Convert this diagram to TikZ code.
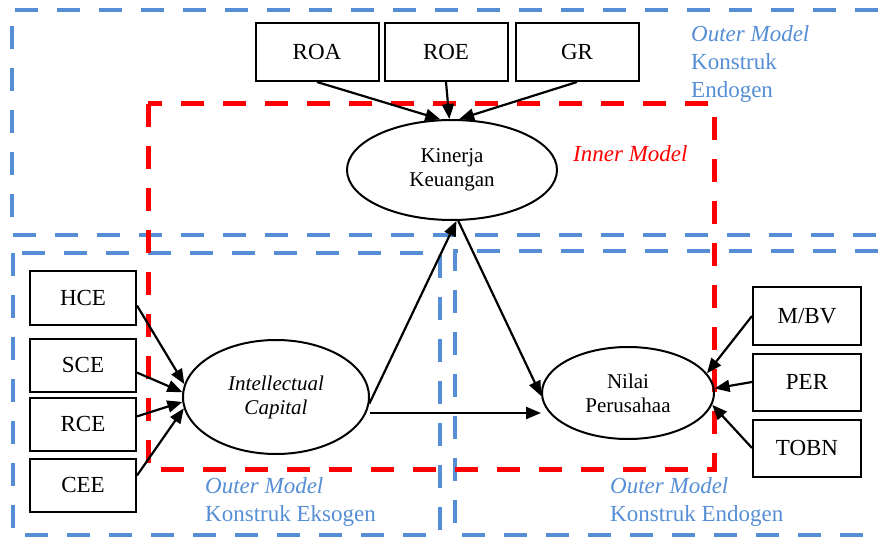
\documentclass[tikz,border=0pt]{standalone}
\usepackage{fontspec}
\setmainfont{Liberation Serif}
\usetikzlibrary{shapes.geometric}
\usetikzlibrary{arrows.meta}
\usetikzlibrary{positioning}
\definecolor{outerblue}{RGB}{85,142,213}
\definecolor{innerred}{RGB}{255,0,0}
\tikzstyle{every indicator} = [draw=black, line width=2pt]
\tikzstyle{indicator} = [rectangle, minimum width=123pt, minimum height=58pt, inner sep=0pt, font=\fontsize{23}{27}\selectfont, every indicator]
\tikzstyle{left indicator} = [indicator, minimum width=106pt, minimum height=53pt]
\tikzstyle{right indicator} = [indicator, minimum width=108pt, minimum height=57pt]
\tikzstyle{construct} = [ellipse, draw=black, line width=2pt, inner sep=0pt, align=center, font=\fontsize{21}{24}\selectfont]
\tikzstyle{link} = [>={Triangle[length=15pt,width=12pt]}, ->, draw, line width=2.2pt]
\tikzstyle{outer box} = [draw=outerblue, line width=4pt, dash pattern=on 23pt off 19pt]
\tikzstyle{inner box} = [draw=innerred, line width=5pt, dash pattern=on 23pt off 19pt]
\tikzstyle{outer label} = [text=outerblue, align=left, anchor=north west, inner sep=0pt, font=\fontsize{23}{28}\selectfont]
\tikzstyle{inner label} = [text=innerred, anchor=base west, inner sep=0pt, font=\fontsize{23}{28}\selectfont\itshape]

\begin{document}
\begin{tikzpicture}[x=1pt, y=-1pt]
  \useasboundingbox (0,0) rectangle (878,537);
  \draw[outer box] (878,10) -- (12,10) -- (12,235) -- (878,235);
  \draw[outer box] (13,253) rectangle (440,535);
  \draw[outer box] (878,251) -- (455,251) -- (455,535) -- (878,535);
  \draw[inner box] (148,104) rectangle (714,469);

  \node[indicator] (roe) at (446,52) {ROE};
  \node[indicator] (roa) [left=4pt of roe] {ROA};
  \node[indicator] (gr) [right=6pt of roe] {GR};
  \node[construct, minimum width=210pt, minimum height=100pt] (kin) at (452,170) {Kinerja\\Keuangan};
  \node[construct, minimum width=186pt, minimum height=114pt, font=\fontsize{21}{24}\selectfont\itshape] (ic) at (276,397) {Intellectual\\Capital};
  \node[construct, minimum width=172pt, minimum height=92pt] (nilai) at (628,393) {Nilai\\Perusahaa};
  \node[left indicator] (hce) at (83,298) {HCE};
  \node[left indicator] (sce) [below=12pt of hce] {SCE};
  \node[left indicator] (rce) [below=4pt of sce] {RCE};
  \node[left indicator] (cee) [below=6pt of rce] {CEE};
  \node[right indicator] (mbv) at (807,316) {M/BV};
  \node[right indicator] (per) [below=7pt of mbv] {PER};
  \node[right indicator] (tobn) [below=7pt of per] {TOBN};

  \draw[link] (roa.south) -- (kin.103);
  \draw[link] (roe.south) -- (kin.93);
  \draw[link] (gr.south) -- (kin.82);
  \draw[link] (ic.-4) -- (kin.-85);
  \draw[link] (kin.-83) -- (nilai.182);
  \draw[link] ([yshift=-16pt]ic.east) -- ([yshift=-16pt]ic.east -| nilai.west);
  \draw[link] (hce.-8) -- (ic.172);
  \draw[link] (sce.-8) -- (ic.177);
  \draw[link] (rce.8) -- (ic.183);
  \draw[link] (cee.10) -- (ic.187);
  \draw[link] (mbv.west) -- (nilai.14);
  \draw[link] (per.west) -- (nilai.3);
  \draw[link] (tobn.west) -- (nilai.-8);

  \node[outer label] (outertop) at (691,25) {\textit{Outer Model}\\Konstruk\\Endogen};
  \node[inner label] (innerlab) at (573,162) {Inner Model};
  \node[outer label] (outerexo) at (205,477) {\textit{Outer Model}\\Konstruk Eksogen};
  \node[outer label] (outerendo) at (610,477) {\textit{Outer Model}\\Konstruk Endogen};
\end{tikzpicture}
\end{document}
